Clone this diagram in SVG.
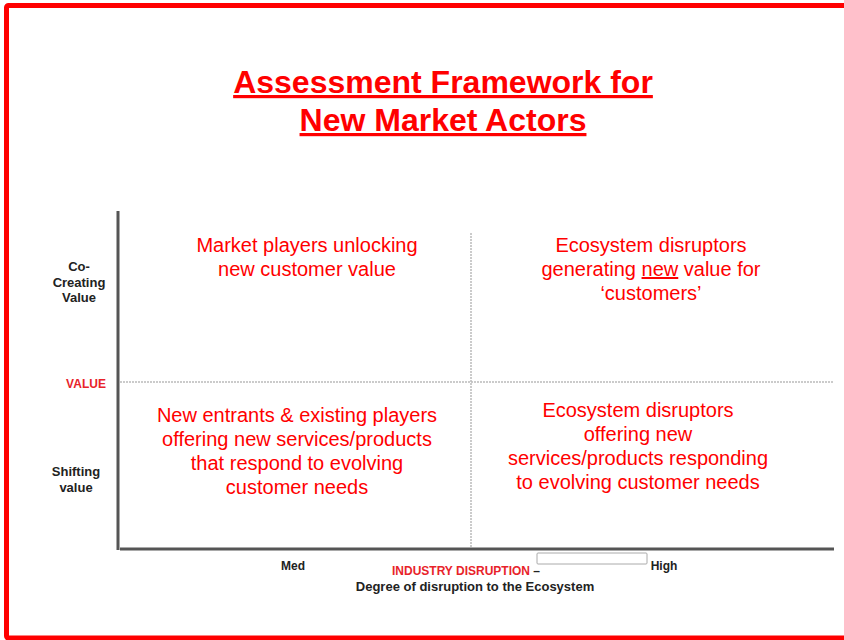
<svg xmlns="http://www.w3.org/2000/svg" width="844" height="640" viewBox="0 0 844 640">
<style>
.title{font-family:"Liberation Sans",Arial,sans-serif;font-weight:bold;font-size:32px;fill:#ff0000;text-anchor:middle;text-decoration:underline}
.q{font-family:"Liberation Sans",Arial,sans-serif;font-size:20px;fill:#ff0000;text-anchor:middle}
.lab{font-family:"Liberation Sans",Arial,sans-serif;font-weight:bold;font-size:12px;fill:#222;text-anchor:middle}
.big{font-size:13px}
.red{fill:#e8232a}
.axis{stroke:#555;stroke-width:3;fill:none}
.grid{stroke:#bbb;stroke-width:1.5;stroke-dasharray:2 1;fill:none}
</style>
<rect x="0" y="0" width="844" height="640" fill="#fff"/>
<rect x="6.5" y="5.5" width="850" height="632.5" rx="2" fill="none" stroke="#ff0000" stroke-width="5"/>
<g id="title">
<text class="title" x="443" y="93">Assessment Framework for</text>
<text class="title" x="443" y="131">New Market Actors</text>
</g>
<g id="connectors">
<line class="grid" x1="120" y1="382" x2="834" y2="382"/>
<line class="grid" x1="471" y1="233" x2="471" y2="547"/>
<line class="axis" x1="118" y1="211" x2="118" y2="550"/>
<line class="axis" x1="120" y1="549" x2="834" y2="549"/>
</g>
<g id="q-top-left">
<text class="q" x="307" y="252">Market players unlocking</text>
<text class="q" x="307" y="276">new customer value</text>
</g>
<g id="q-top-right">
<text class="q" x="651" y="252">Ecosystem disruptors</text>
<text class="q" x="651" y="276">generating <tspan text-decoration="underline">new</tspan> value for</text>
<text class="q" x="651" y="300">‘customers’</text>
</g>
<g id="q-bottom-left">
<text class="q" x="297" y="422">New entrants &amp; existing players</text>
<text class="q" x="297" y="446">offering new services/products</text>
<text class="q" x="297" y="470">that respond to evolving</text>
<text class="q" x="297" y="494">customer needs</text>
</g>
<g id="q-bottom-right">
<text class="q" x="638" y="417">Ecosystem disruptors</text>
<text class="q" x="638" y="441">offering new</text>
<text class="q" x="638" y="465">services/products responding</text>
<text class="q" x="638" y="489">to evolving customer needs</text>
</g>
<g id="y-labels">
<text class="lab big" x="79" y="271">Co-</text>
<text class="lab big" x="79" y="287">Creating</text>
<text class="lab big" x="79" y="302">Value</text>
<text class="lab red" x="86" y="388">VALUE</text>
<text class="lab big" x="76" y="476">Shifting</text>
<text class="lab big" x="76" y="492">value</text>
</g>
<g id="x-labels">
<rect x="537" y="553" width="110" height="11" rx="1" fill="#fff" stroke="#aaa" stroke-width="1"/>
<text class="lab" x="293" y="570">Med</text>
<text class="lab" x="664" y="570">High</text>
<text class="lab" x="466" y="575"><tspan class="red">INDUSTRY DISRUPTION</tspan> –</text>
<text class="lab big" x="475" y="591">Degree of disruption to the Ecosystem</text>
</g>
</svg>
